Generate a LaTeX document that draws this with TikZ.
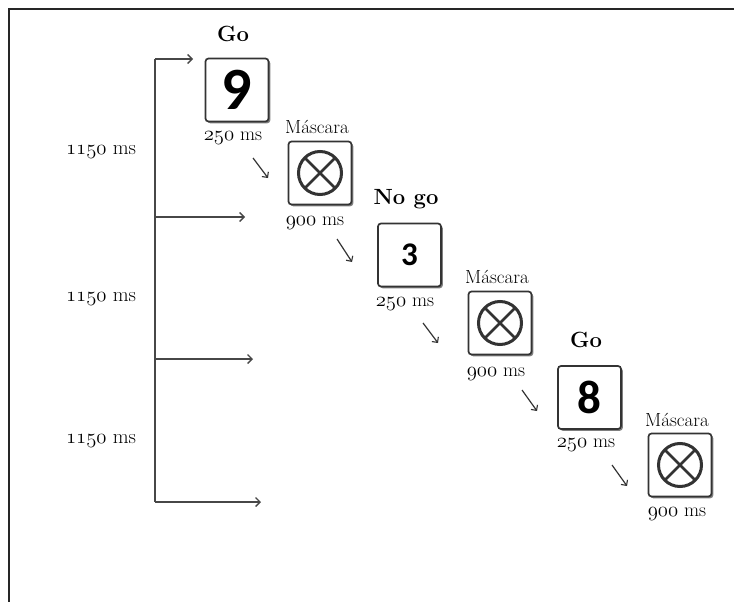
\documentclass[tikz,border=0pt]{standalone}
\usepackage{fontspec}
\newfontfamily\digitfont{Carlito}
\usetikzlibrary{arrows.meta,shadows}
% old-style figures taken from the math italic font
\newcommand\ofig[1]{{\usefont{OML}{cmm}{m}{it}#1}}
\begin{document}
\begin{tikzpicture}[x=1pt,y=-1pt,
  frameline/.style={line width=2pt,draw=black!85},
  timeline/.style={line width=1.4pt,draw=black!72,
    -{Straight Barb[length=4.5pt,width=9pt,line width=1.3pt]}},
  spine/.style={line width=1.4pt,draw=black!72},
  stepline/.style={line width=1.2pt,draw=black!80,
    -{Straight Barb[length=4pt,width=8pt,line width=1.1pt]}},
  stim/.style={rectangle,draw=black!80,line width=1.7pt,fill=white,
    rounded corners=3pt,minimum width=63pt,minimum height=63pt,inner sep=0pt,
    drop shadow={shadow xshift=1.8pt,shadow yshift=-1.8pt,opacity=.5,fill=black}},
  maskbox/.style={stim,
    path picture={
      \draw[line width=3pt] (path picture bounding box.center) circle[radius=21.5pt];
      \draw[line width=2.6pt]
        ([shift={(-15.2pt,-15.2pt)}]path picture bounding box.center) --
        ([shift={(15.2pt,15.2pt)}]path picture bounding box.center)
        ([shift={(-15.2pt,15.2pt)}]path picture bounding box.center) --
        ([shift={(15.2pt,-15.2pt)}]path picture bounding box.center);}},
  cond/.style={font=\fontsize{22}{26}\selectfont\bfseries,anchor=base,inner sep=0pt},
  dur/.style={font=\fontsize{19.5}{23}\selectfont,anchor=base,inner sep=0pt},
  masklab/.style={font=\fontsize{19}{23}\selectfont,anchor=base,inner sep=0pt},
  total/.style={font=\fontsize{20.5}{24}\selectfont,anchor=base,inner sep=0pt}]
\useasboundingbox (0,0) rectangle (734,602);

% frame
\coordinate (ftl) at (9,9);
\coordinate (ftr) at (734,9);
\coordinate (fbl) at (9,602);
\draw[frameline] (ftr) -- (ftl) -- (fbl);

% time line on the left
\coordinate (t0) at (155,59);
\coordinate (t1) at (155,217);
\coordinate (t2) at (155,359);
\coordinate (t3) at (155,502);
\coordinate (e0) at (193,59);
\coordinate (e1) at (245,217);
\coordinate (e2) at (253,359);
\coordinate (e3) at (261,502);
\draw[spine] (t0) -- (t3);
\draw[timeline] (t0) -- (e0);
\draw[timeline] (t1) -- (e1);
\draw[timeline] (t2) -- (e2);
\draw[timeline] (t3) -- (e3);

\node[total] (d1) at (101,154) {\ofig{1150} ms};
\node[total] (d2) at (101,301) {\ofig{1150} ms};
\node[total] (d3) at (101,443) {\ofig{1150} ms};

% stimuli
\node[stim] (s1) at (237,90) {\digitfont\bfseries\fontsize{60}{66}\selectfont 9};
\node[maskbox] (m1) at (320,173) {};
\node[stim] (s2) at (409.5,255) {\digitfont\bfseries\fontsize{33}{38}\selectfont 3};
\node[maskbox] (m2) at (500,323) {};
\node[stim] (s3) at (589.5,397.5) {\digitfont\bfseries\fontsize{47}{52}\selectfont 8};
\node[maskbox] (m3) at (680,465) {};

% labels
\node[cond] (c1) at (233,42) {Go};
\node[cond] (c2) at (406,204) {No go};
\node[cond] (c3) at (586,347) {Go};

\node[dur] (p1) at (233,140) {\ofig{250} ms};
\node[dur] (p2) at (405,306) {\ofig{250} ms};
\node[dur] (p3) at (586,447) {\ofig{250} ms};

\node[masklab] (k1) at (317,133) {Máscara};
\node[masklab] (k2) at (497,283) {Máscara};
\node[masklab] (k3) at (677,426) {Máscara};

\node[dur] (q1) at (315,225) {\ofig{900} ms};
\node[dur] (q2) at (496,376) {\ofig{900} ms};
\node[dur] (q3) at (677,516) {\ofig{900} ms};

% small step arrows
\coordinate (a1) at (253,158);  \coordinate (b1) at (268,178);
\coordinate (a2) at (337,239);  \coordinate (b2) at (352,262);
\coordinate (a3) at (423,323);  \coordinate (b3) at (438,343);
\coordinate (a4) at (522,390);  \coordinate (b4) at (537,411);
\coordinate (a5) at (612,465);  \coordinate (b5) at (627,486);
\foreach \i in {1,...,5} \draw[stepline] (a\i) -- (b\i);
\end{tikzpicture}
\end{document}
